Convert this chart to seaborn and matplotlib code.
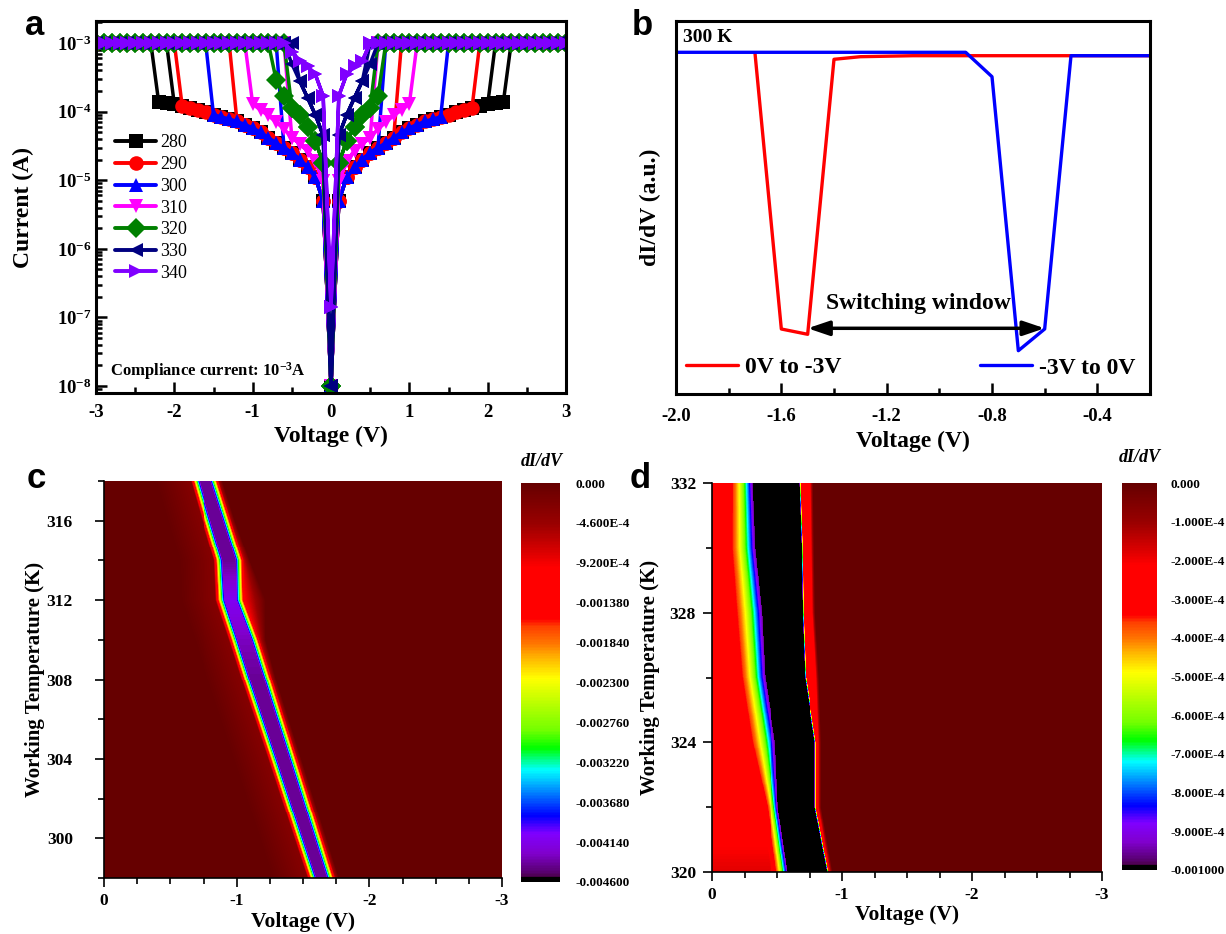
import numpy as np
import pandas as pd
import matplotlib
matplotlib.use("Agg")
import matplotlib.pyplot as plt
import seaborn as sns
from matplotlib.colors import LinearSegmentedColormap
from matplotlib.lines import Line2D
from matplotlib.ticker import LogLocator, NullFormatter

# ---------------- (a) I-V loops at each working temperature ----------------
temps_a = ["280", "290", "300", "310", "320", "330", "340"]
colors_a = ["#000000", "#ff0000", "#0000ff", "#ff00ff", "#008000", "#000080", "#8000ff"]
markers_a = ["s", "o", "^", "v", "D", "<", ">"]
sweep_step = 0.1    # V
sweep_max = 3.0     # V
compliance = 1e-3   # A
# current on the low-conductance branch at |V| = 0, 0.1, 0.2, ... (A)
i_low_base = [1e-8, 5e-6, 1.1e-5, 1.55e-5, 2e-5, 2.5e-5, 3e-5, 3.5e-5, 4.2e-5, 5e-5,
              5.8e-5, 6.5e-5, 7.2e-5, 7.8e-5, 8.4e-5, 9e-5, 9.8e-5, 1.06e-4, 1.14e-4,
              1.22e-4, 1.28e-4, 1.32e-4, 1.38e-4]
i_low_310 = [1e-8, 9.6e-6, 1.9e-5, 2.7e-5, 3.4e-5, 4.2e-5, 5.6e-5, 7e-5, 8.8e-5, 1.05e-4, 1.3e-4]
i_low_320 = [1e-8, 1.8e-5, 3.7e-5, 6e-5, 9e-5, 1.15e-4, 1.7e-4, 2.9e-4]
i_low_330 = [1e-8, 4.5e-5, 9e-5, 1.6e-4, 2.8e-4, 5e-4]
i_low_340 = [1.4e-7, 1.7e-4, 3.5e-4, 4.6e-4, 5.5e-4, 7.5e-4]
low_branch = [i_low_base, i_low_base, i_low_base, i_low_310, i_low_320, i_low_330, i_low_340]
# |V| of first point at compliance going out (set) / last one coming back (hold)
v_set_pos = [2.3, 1.9, 1.5, 1.1, 0.7, 0.6, 0.5]
v_set_neg = [2.3, 2.0, 1.6, 1.1, 0.8, 0.6, 0.6]
v_hold_pos = [2.1, 0.9, 0.7, 0.6, 0.6, 0.5, 0.5]
v_hold_neg = [2.1, 1.3, 0.7, 0.6, 0.6, 0.5, 0.6]

# ---------------- (b) dI/dV at 300 K ----------------
b_v_fwd = [-1.7, -1.6, -1.5, -1.4, -1.3, -1.2, -1.1, -1.0, -0.9, -0.8, -0.7, -0.6,
           -0.5, -0.4, -0.3, -0.2]
b_g_fwd = [0.024, -2.733, -2.786, -0.036, -0.01, -0.005, 0, 0, 0, 0, 0, 0, 0, 0, 0, 0]
b_v_rev = [-2.0, -1.9, -1.8, -1.7, -1.6, -1.5, -1.4, -1.3, -1.2, -1.1, -1.0, -0.9,
           -0.8, -0.7, -0.6, -0.5, -0.4, -0.3, -0.2]
b_g_rev = [0.034, 0.034, 0.034, 0.034, 0.034, 0.034, 0.034, 0.034, 0.034, 0.034, 0.034,
           0.034, -0.21, -2.95, -2.733, 0, 0, 0, 0]
b_labels = ["0V to -3V", "-3V to 0V"]
b_colors = ["#ff0000", "#0000ff"]
window_v = [-1.5, -0.6]
window_g = -2.726

# ---------------- (c) dI/dV map 298-318 K ----------------
c_temps = [298, 300, 302, 304, 306, 308, 310, 312, 314, 316, 318]
c_v_on = [-1.565, -1.466, -1.368, -1.27, -1.17, -1.07, -0.974, -0.873, -0.86, -0.77, -0.684]
c_v_off = [-1.715, -1.621, -1.527, -1.433, -1.338, -1.244, -1.15, -1.04, -1.03, -0.935, -0.84]
c_depth = [-0.0044, -0.0044, -0.0044, -0.0044, -0.0044, -0.0044, -0.0043, -0.0041,
           -0.0044, -0.0044, -0.0044]
c_glow = [0.055, 0.055, 0.055, 0.055, 0.055, 0.055, 0.07, 0.18, 0.07, 0.055, 0.055]
c_cbar_ticks = [0, -4.6e-4, -9.2e-4, -1.38e-3, -1.84e-3, -2.3e-3, -2.76e-3, -3.22e-3,
                -3.68e-3, -4.14e-3, -4.6e-3]
c_cbar_labels = ["0.000", "-4.600E-4", "-9.200E-4", "-0.001380", "-0.001840", "-0.002300",
                 "-0.002760", "-0.003220", "-0.003680", "-0.004140", "-0.004600"]

# ---------------- (d) dI/dV map 320-332 K ----------------
d_temps = [320, 322, 324, 326, 328, 330, 332]
d_v_on = [-0.582, -0.508, -0.487, -0.41, -0.385, -0.333, -0.313]
d_v_off = [-0.877, -0.782, -0.782, -0.705, -0.687, -0.679, -0.662]
d_ramp = [0.14, 0.11, 0.23, 0.23, 0.25, 0.23, 0.2]
d_strip = [0.02, 0.03, 0.03, 0.09, 0.08, 0.08, 0.09]
d_level = [-1.8e-4, -2.6e-4, -2.7e-4, -2.7e-4, -2.7e-4, -2.7e-4, -2.7e-4]
d_cbar_ticks = [0, -1e-4, -2e-4, -3e-4, -4e-4, -5e-4, -6e-4, -7e-4, -8e-4, -9e-4, -1e-3]
d_cbar_labels = ["0.000", "-1.000E-4", "-2.000E-4", "-3.000E-4", "-4.000E-4", "-5.000E-4",
                 "-6.000E-4", "-7.000E-4", "-8.000E-4", "-9.000E-4", "-0.001000"]

map_v_major = [0, -1, -2, -3]

# ---------------- style ----------------
sns.set_style("ticks", {"axes.edgecolor": "black", "text.color": "black",
                        "xtick.color": "black", "ytick.color": "black",
                        "axes.labelcolor": "black"})
plt.rcParams["font.family"] = ["Liberation Serif", "DejaVu Serif"]
plt.rcParams["font.weight"] = "bold"
plt.rcParams["axes.labelweight"] = "bold"
plt.rcParams["mathtext.fontset"] = "custom"
plt.rcParams["mathtext.rm"] = "Liberation Serif:bold"
plt.rcParams["mathtext.it"] = "Liberation Serif:italic:bold"
plt.rcParams["mathtext.bf"] = "Liberation Serif:bold"

cmap = LinearSegmentedColormap.from_list("origin_rainbow", [
    (0.0, (0, 0, 0)), (0.01, (0, 0, 0)), (0.012, (0.3, 0, 0.3)), (0.025, (0.35, 0, 0.45)),
    (0.07, (0.5, 0, 0.8)), (0.12, (0.5, 0, 1)), (0.165, (0, 0, 1)), (0.2, (0, 0.3, 1)),
    (0.24, (0, 0.65, 1)), (0.28, (0, 1, 1)), (0.335, (0, 1, 0)), (0.38, (0.45, 1, 0)),
    (0.44, (0.7, 1, 0)), (0.51, (1, 1, 0)), (0.56, (1, 0.72, 0)), (0.6, (1, 0.45, 0)),
    (0.64, (1, 0.25, 0)), (0.66, (1, 0, 0)), (0.79, (1, 0, 0)), (0.83, (0.85, 0, 0)),
    (0.9, (0.6, 0, 0)), (1.0, (0.4, 0, 0))], N=256)

W, H = 1226, 934
fig = plt.figure(figsize=(W / 100, H / 100), dpi=100)


def box(x0, y0, x1, y1):
    return [x0 / W, 1 - y1 / H, (x1 - x0) / W, (y1 - y0) / H]


ax_a = fig.add_axes(box(96, 21, 566, 393))
ax_b = fig.add_axes(box(676, 21, 1150, 394))
ax_c = fig.add_axes(box(104, 481, 502, 878))
cax_c = fig.add_axes(box(521, 483, 560, 882))
ax_d = fig.add_axes(box(712, 483, 1102, 872))
cax_d = fig.add_axes(box(1122, 483, 1157, 870))

# ---------------- panel a ----------------
grid = np.round(np.arange(0, sweep_max + sweep_step / 2, sweep_step), 2)
frames = []
for k, t in enumerate(temps_a):
    low = low_branch[k]
    v_all, i_all = [], []
    for sign, v_set, v_hold in ((1, v_set_pos[k], v_hold_pos[k]), (-1, v_set_neg[k], v_hold_neg[k])):
        fwd = [low[j] if g < v_set - 1e-6 else compliance for j, g in enumerate(grid)]
        back = [compliance if g > v_hold - 1e-6 else low[j] for j, g in enumerate(grid)]
        v_all += list(sign * grid) + list(sign * grid[::-1])
        i_all += fwd + back[::-1]
    frames.append(pd.DataFrame({"V": v_all, "I": i_all, "T": t}))
df_a = pd.concat(frames, ignore_index=True)

ax_a.set_yscale("log")
sns.lineplot(data=df_a, x="V", y="I", hue="T", style="T", hue_order=temps_a,
             style_order=temps_a, palette=dict(zip(temps_a, colors_a)),
             markers=dict(zip(temps_a, markers_a)), dashes=False, sort=False,
             estimator=None, legend=False, lw=2.5, markersize=10.5, markeredgewidth=0, ax=ax_a)
ax_a.set_xlim(-3, 3)
ax_a.set_ylim(7.9e-9, 2.1e-3)
ax_a.set_xticks([-3, -2, -1, 0, 1, 2, 3], ["-3", "-2", "-1", "0", "1", "2", "3"])
ax_a.set_xticks(np.arange(-2.5, 3, 1.0), minor=True)
decades = [1e-8, 1e-7, 1e-6, 1e-5, 1e-4, 1e-3]
ax_a.set_yticks(decades, [r"10$^{-%d}$" % e for e in (8, 7, 6, 5, 4, 3)])
ax_a.yaxis.set_minor_locator(LogLocator(base=10, subs=np.arange(2, 10), numticks=20))
ax_a.yaxis.set_minor_formatter(NullFormatter())
ax_a.tick_params(which="both", direction="in", width=1.8, top=False, right=False)
ax_a.tick_params(which="major", length=8, labelsize=13.5)
ax_a.tick_params(which="minor", length=4.5)
ax_a.tick_params(axis="x", pad=8)
ax_a.tick_params(axis="y", pad=3)
for sp in ax_a.spines.values():
    sp.set_linewidth(2.2)
ax_a.set_xlabel("Voltage (V)", fontsize=17)
ax_a.set_ylabel("Current (A)", fontsize=17)
ax_a.xaxis.set_label_coords(0.5, -0.089)
ax_a.yaxis.set_label_coords(-0.132, 0.5)
handles_a = [Line2D([], [], color=c, marker=m, lw=2.8, markersize=10.5, markeredgewidth=0)
             for c, m in zip(colors_a, markers_a)]
ax_a.legend(handles_a, temps_a, loc="upper left", bbox_to_anchor=(0.04, 0.695),
            frameon=False, prop={"family": "Liberation Serif", "weight": "normal", "size": 13},
            handlelength=2.3, handletextpad=0.2, labelspacing=0.26, borderpad=0,
            borderaxespad=0)
ax_a.text(0.03, 0.059, r"Compliance current: 10$^{-3}$A", transform=ax_a.transAxes,
          fontsize=12, ha="left", va="center")

# ---------------- panel b ----------------
df_b = pd.concat([pd.DataFrame({"V": b_v_fwd, "G": b_g_fwd, "sweep": b_labels[0]}),
                  pd.DataFrame({"V": b_v_rev, "G": b_g_rev, "sweep": b_labels[1]})],
                 ignore_index=True)
sns.lineplot(data=df_b, x="V", y="G", hue="sweep", hue_order=b_labels,
             palette=dict(zip(b_labels, b_colors)), sort=False, estimator=None,
             legend=False, lw=2.4, ax=ax_b)
ax_b.set_xlim(-2.0, -0.2)
ax_b.set_ylim(-3.383, 0.347)
ax_b.set_xticks([-2.0, -1.6, -1.2, -0.8, -0.4], ["-2.0", "-1.6", "-1.2", "-0.8", "-0.4"])
ax_b.set_xticks([-1.8, -1.4, -1.0, -0.6], minor=True)
ax_b.set_yticks([])
ax_b.tick_params(which="both", direction="in", width=1.8, top=False, right=False)
ax_b.tick_params(which="major", length=8, labelsize=13.5, pad=10)
ax_b.tick_params(which="minor", length=4.5)
for sp in ax_b.spines.values():
    sp.set_linewidth(2.2)
ax_b.set_xlabel("Voltage (V)", fontsize=17)
ax_b.set_ylabel("dI/dV (a.u.)", fontsize=17)
ax_b.xaxis.set_label_coords(0.5, -0.099)
ax_b.yaxis.set_label_coords(-0.032, 0.5)
ax_b.text(0.015, 0.957, "300 K", transform=ax_b.transAxes, fontsize=14, ha="left", va="center")
ax_b.annotate("", xy=(window_v[1], window_g), xytext=(window_v[0], window_g),
              arrowprops=dict(arrowstyle="<|-|>,head_length=0.65,head_width=0.22",
                              lw=2.5, color="black", shrinkA=0, shrinkB=0, mutation_scale=20))
ax_b.text(np.mean(window_v) - 0.03, window_g + 0.253, "Switching window", fontsize=17,
          ha="center", va="center")
leg_kw = dict(frameon=False, prop={"family": "Liberation Serif", "weight": "bold", "size": 17},
              handlelength=2.2, handletextpad=0.3, borderpad=0, borderaxespad=0)
leg1 = ax_b.legend([Line2D([], [], color=b_colors[0], lw=2.4)], [b_labels[0]],
                   loc="center left", bbox_to_anchor=(0.021, 0.072), **leg_kw)
ax_b.add_artist(leg1)
ax_b.legend([Line2D([], [], color=b_colors[1], lw=2.4)], [b_labels[1]],
            loc="center left", bbox_to_anchor=(0.641, 0.070), **leg_kw)

# ---------------- panels c and d: dI/dV maps ----------------
n_cells = 400
v_span = 3.0
u = ((np.arange(n_cells) + 0.5) * v_span / n_cells)[None, :]   # |V| at cell centres


def rows_of(t_lo, t_hi):
    return t_hi - (np.arange(n_cells) + 0.5) * (t_hi - t_lo) / n_cells


def col(t_rows, temps, values):
    return np.interp(t_rows, temps, values)[:, None]


# (c)
tc = rows_of(298, 318)
L = col(tc, c_temps, np.abs(c_v_on))
R = col(tc, c_temps, np.abs(c_v_off))
D = col(tc, c_temps, c_depth)
G = col(tc, c_temps, c_glow)
ramp = 0.075
s = np.clip(np.minimum(u - (L - ramp / 2), (R + ramp / 2) - u) / ramp, 0, 1)
z_c = D * s
z_c = np.minimum(z_c, np.where(u < R, -3.2e-4 * np.clip(1 - (L - u) / 0.3, 0, 1), 0))
z_c = np.minimum(z_c, np.where(u > L, -1.1e-3 * np.clip(1 - (u - R) / G, 0, 1), 0))

# (d)
td = rows_of(320, 332)
L = col(td, d_temps, np.abs(d_v_on))
R = col(td, d_temps, np.abs(d_v_off))
WL = col(td, d_temps, d_ramp)
WR = col(td, d_temps, d_strip)
LV = col(td, d_temps, d_level)
s = np.clip((u - (L - WL)) / WL, 0, 1)
z_left = LV + (-9.6e-4 - LV) * s ** 1.6
r = u - R
z_right = np.minimum(-1.5e-3 + (1.5e-3 - 2.7e-4) * r / 0.02, -2.7e-4)
z_right = np.where(r > WR, np.maximum(z_right, -2.7e-4 * np.clip(1 - (r - WR) / 0.03, 0, 1)),
                   z_right)
z_d = np.where(u < L, z_left, np.where(u <= R, -1.5e-3, z_right))

sns.heatmap(z_c, ax=ax_c, cmap=cmap, vmin=-4.6e-3, vmax=0, cbar_ax=cax_c,
            xticklabels=False, yticklabels=False, rasterized=True)
sns.heatmap(z_d, ax=ax_d, cmap=cmap, vmin=-1e-3, vmax=0, cbar_ax=cax_d,
            xticklabels=False, yticklabels=False, rasterized=True)


def finish_map(ax, t_lo, t_hi, t_major, ypad, ylabel_x):
    xpos = lambda v: np.abs(np.asarray(v, float)) / v_span * n_cells
    ypos = lambda t: (t_hi - np.asarray(t, float)) / (t_hi - t_lo) * n_cells
    ax.set_xticks(xpos(map_v_major), [f"{v:g}" for v in map_v_major])
    ax.set_xticks(xpos(np.arange(0, -3.01, -0.25)), minor=True)
    ax.set_yticks(ypos(t_major), [str(t) for t in t_major])
    ax.set_yticks(ypos(np.arange(t_lo, t_hi + 1, 2)), minor=True)
    for side in ("left", "bottom"):
        ax.spines[side].set_visible(True)
        ax.spines[side].set_linewidth(1.2)
    ax.tick_params(which="both", direction="out", width=1.2, top=False, right=False,
                   left=True, bottom=True)
    ax.tick_params(which="major", length=6.5, labelsize=12.5)
    ax.tick_params(which="minor", length=4)
    ax.tick_params(axis="x", pad=4)
    ax.tick_params(axis="y", pad=ypad, labelrotation=0)
    ax.set_xlabel("Voltage (V)", fontsize=15.5)
    ax.set_ylabel("Working Temperature (K)", fontsize=15)
    ax.xaxis.set_label_coords(0.5, -0.086)
    ax.yaxis.set_label_coords(ylabel_x, 0.5)


finish_map(ax_c, 298, 318, [300, 304, 308, 312, 316], 16, -0.148)
finish_map(ax_d, 320, 332, [320, 324, 328, 332], 5, -0.133)

for ax, ticks, labels, pad in ((ax_c, c_cbar_ticks, c_cbar_labels, 10.8),
                               (ax_d, d_cbar_ticks, d_cbar_labels, 10)):
    cb = ax.collections[0].colorbar
    cb.set_ticks(ticks, labels=labels)
    cb.ax.tick_params(length=0, pad=pad, labelsize=9.5)
    cb.outline.set_visible(False)

for x, y in ((542, 462), (1140, 458)):
    fig.text(x / W, 1 - y / H, "dI/dV", ha="center", va="center", style="italic",
             fontsize=13)

for letter, x, y in (("a", 25, 35), ("b", 632, 35), ("c", 27, 488), ("d", 630, 488)):
    fig.text(x / W, 1 - y / H, letter, family="Liberation Sans", weight="bold",
             fontsize=25, ha="left", va="baseline")

fig.savefig("out.png", dpi=100)
